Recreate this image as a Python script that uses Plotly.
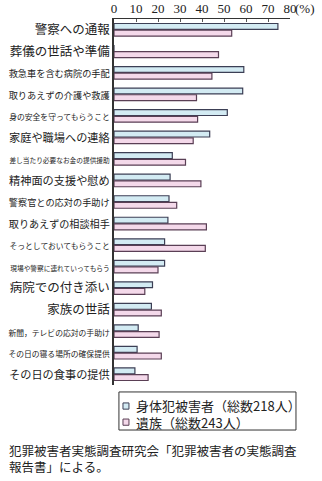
import plotly.graph_objects as go

categories = [
    "警察への通報",
    "葬儀の世話や準備",
    "救急車を含む病院の手配",
    "取りあえずの介護や救護",
    "身の安全を守ってもらうこと",
    "家庭や職場への連絡",
    "差し当たり必要なお金の提供援助",
    "精神面の支援や慰め",
    "警察官との応対の手助け",
    "取りあえずの相談相手",
    "そっとしておいてもらうこと",
    "現場や警察に連れていってもらう",
    "病院での付き添い",
    "家族の世話",
    "新聞，テレビの応対の手助け",
    "その日の寝る場所の確保提供",
    "その日の食事の提供",
]
victims = [74.5, 0, 59, 58.5, 51.5, 43.5, 26.5, 25.5, 25, 24.5, 23, 23, 17.5, 17, 11, 10.5, 9.5]
bereaved = [53.5, 47.5, 44.5, 37.5, 38, 36, 32.5, 39.5, 28.5, 42, 41.5, 20, 14, 21.5, 20.5, 21.5, 15.5]
series_names = ["身体犯被害者（総数218人）", "遺族（総数243人）"]
series_colors = ["#d3ebf3", "#f4d9ea"]
series_edges = ["#3c3f55", "#5a3f55"]
x_ticks = [0, 10, 20, 30, 40, 50, 60, 70, 80]
source_lines = ["犯罪被害者実態調査研究会「犯罪被害者の実態調査", "報告書」による。"]

JP = "Noto Sans CJK JP"

def label_html(s):
    size = min(12.5, 101.0 / len(s))
    return f'<span style="font-size:{size:.1f}px">{s}</span>'

fig = go.Figure()
for name, vals, col, edge in zip(series_names, [victims, bereaved], series_colors, series_edges):
    fig.add_trace(go.Bar(
        y=categories, x=vals, orientation="h", name=name,
        marker=dict(color=col, line=dict(color=edge, width=1.2)),
    ))

fig.update_layout(
    width=322, height=481,
    margin=dict(l=114, r=32, t=19, b=96, autoexpand=False),
    paper_bgcolor="white", plot_bgcolor="white",
    barmode="group", bargap=0.38, bargroupgap=0.12,
    font=dict(family=JP, color="#222", size=12.5),
    showlegend=False,
    xaxis=dict(
        side="top", range=[0, 80], tickvals=x_ticks,
        ticktext=[str(v) for v in x_ticks],
        tickfont=dict(family="Liberation Serif", size=13, color="#222"),
        showline=True, linecolor="#333", linewidth=1.2,
        ticks="inside", ticklen=3, tickcolor="#555",
        showgrid=False, zeroline=False, fixedrange=True, automargin=False,
    ),
    yaxis=dict(
        tickvals=categories, ticktext=[label_html(c) for c in categories],
        autorange="reversed", automargin=False,
        showline=True, linecolor="#333", linewidth=1.5,
        ticks="", showgrid=False, zeroline=False,
        tickfont=dict(family=JP, size=12.5, color="#222"),
    ),
)

fig.add_annotation(
    x=80, y=1, xref="x", yref="paper", text="(%)",
    showarrow=False, xanchor="left", yanchor="bottom", xshift=3, yshift=1,
    font=dict(family="Liberation Serif", size=13, color="#222"),
)

# manual legend
fig.add_shape(type="rect", xref="paper", yref="paper",
              x0=0.028, x1=1.034, y0=-0.123, y1=-0.019,
              line=dict(color="#333", width=1), fillcolor="white")
sym_rows = [(-0.049, -0.066), (-0.093, -0.110)]
for (ya, yb), col, edge in zip(sym_rows, series_colors, series_edges):
    fig.add_shape(type="rect", xref="paper", yref="paper",
                  x0=0.051, x1=0.085, y0=yb, y1=ya,
                  line=dict(color=edge, width=1), fillcolor=col)
fig.add_annotation(x=0.113, y=-0.080, xref="paper", yref="paper",
                   text="<br>".join(series_names), align="left",
                   showarrow=False, xanchor="left", yanchor="middle",
                   font=dict(family=JP, size=13, color="#222"))

fig.add_annotation(
    x=-0.61, y=-0.201, xref="paper", yref="paper", text="<br>".join(source_lines),
    align="left", showarrow=False, xanchor="left", yanchor="middle",
    font=dict(family=JP, size=12.5, color="#222"),
)

fig.write_html("out.html")
